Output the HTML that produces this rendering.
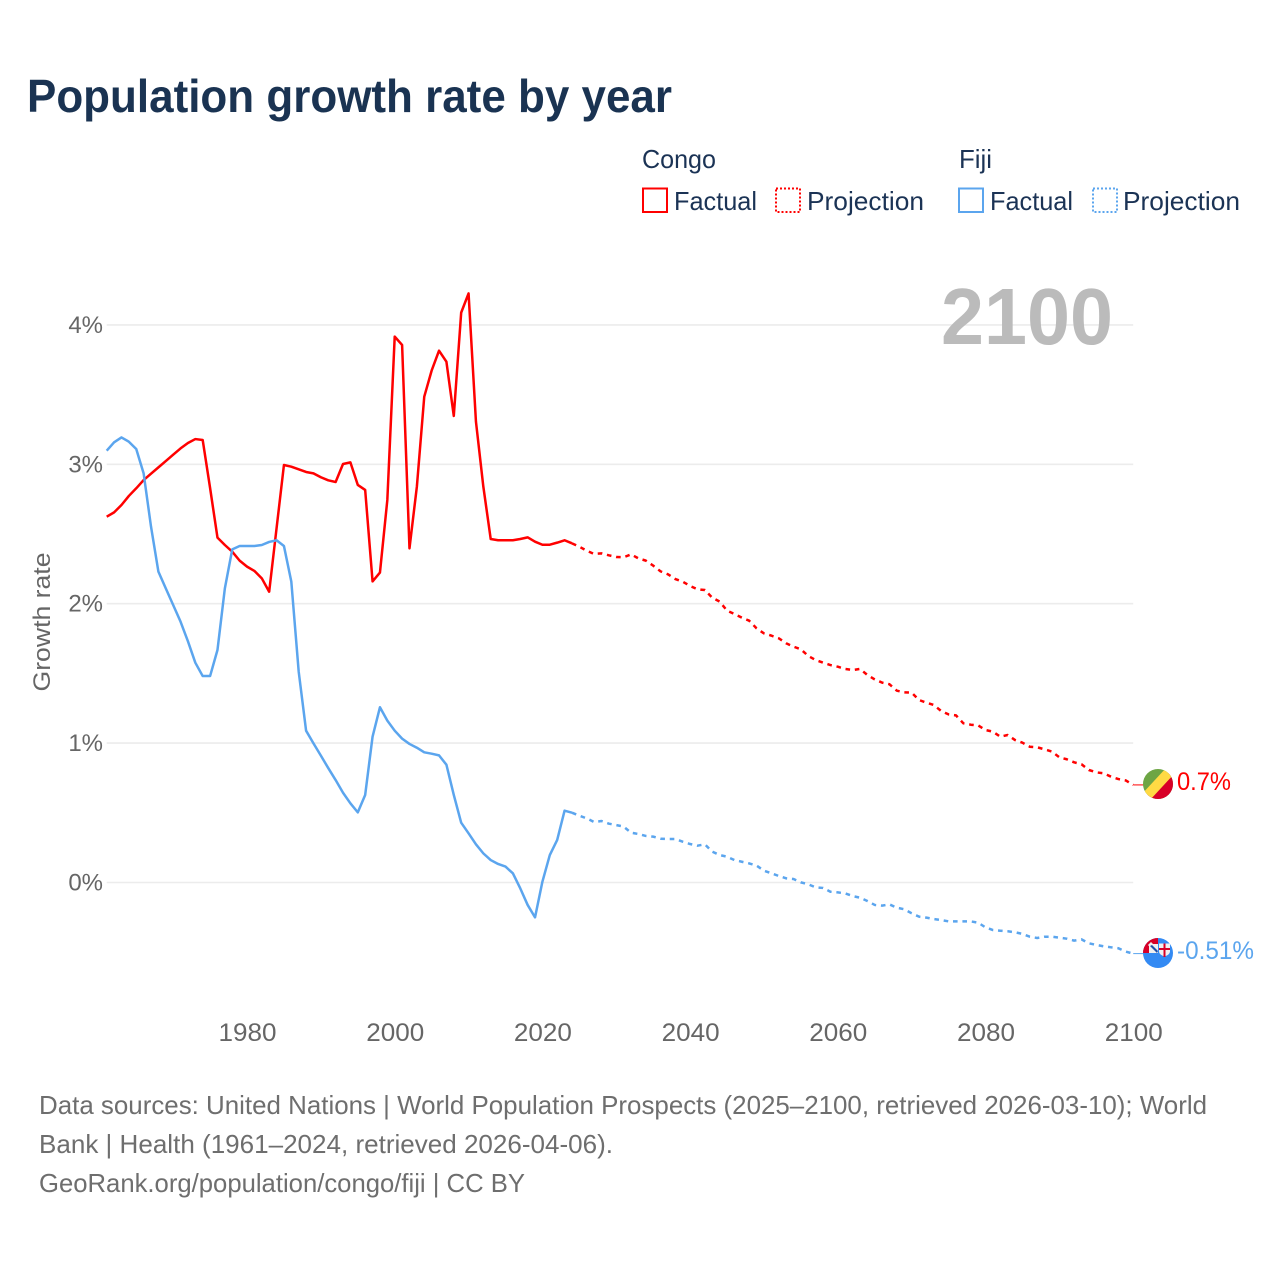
<!DOCTYPE html>
<html lang="en">
<head>
<meta charset="utf-8">
<title>Population growth rate by year</title>
<style>
html,body{margin:0;padding:0;background:#fff;width:1280px;height:1280px;overflow:hidden}
svg{display:block}
text{font-family:"Liberation Sans",sans-serif}
</style>
</head>
<body>
<svg id="chart" xmlns="http://www.w3.org/2000/svg" width="1280" height="1280" viewBox="0 0 1280 1280">
  <defs>
    <clipPath id="flag-clip-congo"><circle cx="1158" cy="784" r="15"/></clipPath>
    <clipPath id="flag-clip-fiji"><circle cx="1158" cy="953" r="15"/></clipPath>
    <clipPath id="canton-clip"><rect x="1143" y="938" width="15" height="15"/></clipPath>
  </defs>
  <rect width="1280" height="1280" fill="#fff"/>

  <text x="27" y="112" font-size="46" font-weight="700" fill="#1a3352" textLength="645" lengthAdjust="spacingAndGlyphs">Population growth rate by year</text>

  <g font-size="26" fill="#1b3355">
    <text x="642" y="168" textLength="74" lengthAdjust="spacingAndGlyphs">Congo</text>
    <text x="959" y="168" textLength="33" lengthAdjust="spacingAndGlyphs">Fiji</text>

    <rect x="643" y="188.5" width="24" height="23.5" fill="none" stroke="#ff0000" stroke-width="2"/>
    <text x="674" y="210" textLength="83" lengthAdjust="spacingAndGlyphs">Factual</text>
    <rect x="776" y="188.5" width="24" height="23.5" fill="none" stroke="#ff0000" stroke-width="2" stroke-dasharray="2 2"/>
    <text x="807" y="210" textLength="117" lengthAdjust="spacingAndGlyphs">Projection</text>

    <rect x="959" y="188.5" width="24" height="23.5" fill="none" stroke="#5ba5ee" stroke-width="2"/>
    <text x="990" y="210" textLength="83" lengthAdjust="spacingAndGlyphs">Factual</text>
    <rect x="1093" y="188.5" width="24" height="23.5" fill="none" stroke="#5ba5ee" stroke-width="2" stroke-dasharray="2 2"/>
    <text x="1123" y="210" textLength="117" lengthAdjust="spacingAndGlyphs">Projection</text>
  </g>

  <g id="grid"></g>
  <g id="y-ticks"></g>
  <g id="x-ticks"></g>

  <text transform="translate(50 622) rotate(-90)" text-anchor="middle" font-size="24" fill="#666" textLength="139" lengthAdjust="spacingAndGlyphs">Growth rate</text>

  <text x="941" y="344" font-size="80" font-weight="700" fill="#bbbbbb" textLength="172" lengthAdjust="spacingAndGlyphs">2100</text>

  <g id="series"></g>

  <g clip-path="url(#flag-clip-congo)">
    <rect x="1142" y="768" width="32" height="32" fill="#6da544"/>
    <polygon points="1174,768 1174,800 1142,800" fill="#d80027"/>
    <polygon points="1166,768 1174,774 1150,800 1142,794" fill="#ffda44"/>
  </g>
  <text x="1177" y="790" font-size="25" fill="#ff0000" textLength="54" lengthAdjust="spacingAndGlyphs">0.7%</text>

  <g clip-path="url(#flag-clip-fiji)">
    <rect x="1142" y="937" width="32" height="32" fill="#338af3"/>
    <g clip-path="url(#canton-clip)">
      <rect x="1143" y="938" width="15" height="15" fill="#d80027"/>
      <polygon points="1148,945 1151,942 1158,949 1158,953 1155,953" fill="#f0f0f0"/>
      <rect x="1149" y="944" width="9" height="9" fill="#f0f0f0"/>
      <polygon points="1150,946 1152,945 1158,951 1157,953" fill="#1f4fa8"/>
    </g>
    <path d="M1159 943.5h11v8q0 3-5.5 5q-5.500-2-5.500-5z" fill="#f0f0f0"/>
    <rect x="1163.5" y="943.5" width="2" height="13.500" fill="#d80027"/>
    <rect x="1159" y="948" width="11" height="2" fill="#d80027"/>
  </g>
  <text x="1177" y="959" font-size="25" fill="#5ba5ee" textLength="77" lengthAdjust="spacingAndGlyphs">-0.51%</text>

  <g font-size="26" fill="#6e6e6e">
    <text x="39" y="1114" textLength="1168" lengthAdjust="spacingAndGlyphs">Data sources: United Nations | World Population Prospects (2025–2100, retrieved 2026-03-10); World</text>
    <text x="39" y="1153" textLength="574" lengthAdjust="spacingAndGlyphs">Bank | Health (1961–2024, retrieved 2026-04-06).</text>
    <text x="39" y="1192" textLength="486" lengthAdjust="spacingAndGlyphs">GeoRank.org/population/congo/fiji | CC BY</text>
  </g>
</svg>
<script>
const yTickValues = [0, 1, 2, 3, 4];
const yTickLabels = ["0%", "1%", "2%", "3%", "4%"];
const xTickYears = [1980, 2000, 2020, 2040, 2060, 2080, 2100];
const xTickLabels = ["1980", "2000", "2020", "2040", "2060", "2080", "2100"];
const factualStartYear = [1961];
const projectionStartYear = [2024];

const congoFactual = [2.624,2.655,2.708,2.773,2.828,2.887,2.933,2.978,3.023,3.069,3.114,3.153,3.181,3.174,2.83,2.474,2.421,2.373,2.309,2.266,2.235,2.182,2.086,2.541,2.995,2.983,2.964,2.945,2.935,2.907,2.885,2.873,3.002,3.014,2.852,2.816,2.16,2.223,2.744,3.916,3.856,2.397,2.84,3.485,3.672,3.815,3.736,3.347,4.088,4.226,3.306,2.84,2.464,2.455,2.455,2.455,2.464,2.476,2.445,2.423,2.423,2.438,2.455,2.433];
const congoProjection = [2.433,2.409,2.38,2.357,2.361,2.347,2.335,2.333,2.354,2.325,2.309,2.273,2.232,2.211,2.177,2.158,2.127,2.103,2.098,2.043,2.015,1.95,1.926,1.9,1.878,1.823,1.787,1.771,1.752,1.716,1.692,1.673,1.625,1.596,1.577,1.56,1.548,1.532,1.524,1.532,1.489,1.457,1.434,1.422,1.376,1.364,1.362,1.309,1.29,1.273,1.23,1.206,1.199,1.142,1.132,1.127,1.094,1.082,1.046,1.058,1.022,1.003,0.974,0.97,0.955,0.939,0.898,0.884,0.862,0.848,0.807,0.79,0.783,0.759,0.742,0.732,0.70];
const fijiFactual = [3.098,3.158,3.193,3.162,3.11,2.935,2.553,2.23,2.11,1.991,1.871,1.73,1.577,1.481,1.481,1.668,2.11,2.39,2.414,2.414,2.414,2.421,2.443,2.455,2.414,2.158,1.512,1.089,0.998,0.91,0.821,0.735,0.644,0.568,0.503,0.628,1.046,1.257,1.161,1.089,1.032,0.994,0.967,0.934,0.924,0.912,0.845,0.628,0.429,0.353,0.274,0.209,0.161,0.133,0.114,0.066,-0.042,-0.161,-0.25,0.006,0.197,0.305,0.515,0.501];
const fijiProjection = [0.501,0.479,0.46,0.434,0.441,0.422,0.412,0.401,0.357,0.348,0.334,0.329,0.314,0.312,0.312,0.293,0.276,0.264,0.274,0.221,0.197,0.185,0.161,0.149,0.137,0.121,0.085,0.066,0.047,0.03,0.025,0.001,-0.013,-0.035,-0.039,-0.066,-0.071,-0.078,-0.097,-0.109,-0.133,-0.161,-0.166,-0.157,-0.181,-0.192,-0.221,-0.245,-0.252,-0.262,-0.269,-0.279,-0.279,-0.279,-0.279,-0.288,-0.322,-0.341,-0.346,-0.35,-0.357,-0.369,-0.389,-0.398,-0.389,-0.389,-0.396,-0.403,-0.417,-0.408,-0.436,-0.448,-0.458,-0.465,-0.472,-0.496,-0.51];

const SVG_NS = "http://www.w3.org/2000/svg";
function xScale(year) { return 106.7 + (year - 1961) * 7.385; }
function yScale(value) { return 882.5 - value * 139.4; }

function makeEl(tag, attrs, parent) {
  const el = document.createElementNS(SVG_NS, tag);
  for (const k in attrs) el.setAttribute(k, attrs[k]);
  parent.appendChild(el);
  return el;
}

const gridGroup = document.getElementById("grid");
const yTickGroup = document.getElementById("y-ticks");
const xTickGroup = document.getElementById("x-ticks");
const seriesGroup = document.getElementById("series");

yTickValues.forEach(function (v, i) {
  const line = makeEl("line", { x1: xScale(1961), x2: xScale(2100), y1: yScale(v), y2: yScale(v), stroke: "#ececec", "stroke-width": 1.6 }, gridGroup);
  
  
  const label = makeEl("text", { x: 103, y: yScale(v) + 8, "text-anchor": "end", "font-size": 24, fill: "#666" }, yTickGroup);
  
  
  label.textContent = yTickLabels[i];
});

xTickYears.forEach(function (yr, i) {
  const label = makeEl("text", { x: xScale(yr) + 0.5, y: 1041, "text-anchor": "middle", "font-size": 25, fill: "#666", textLength: 58, lengthAdjust: "spacingAndGlyphs" }, xTickGroup);
  
  
  label.textContent = xTickLabels[i];
});

function toPoints(values, startYear) {
  return values.map(function (v, i) {
    return xScale(startYear + i).toFixed(2) + "," + yScale(v).toFixed(2);
  }).join(" ");
}

function drawSeries(values, startYear, color, dashed) {
  const attrs = { points: toPoints(values, startYear), fill: "none", stroke: color, "stroke-width": 2.5, "stroke-linejoin": "round" };
  if (dashed) attrs["stroke-dasharray"] = "4.6 4.8";
  return makeEl("polyline", attrs, seriesGroup);
}

function drawConnector(values, startYear, color, markerX) {
  const last = values[values.length - 1];
  const lastYear = startYear + values.length - 1;
  return makeEl("line", { x1: xScale(lastYear), y1: yScale(last), x2: markerX, y2: yScale(last), stroke: color, "stroke-width": 1 }, seriesGroup);
}

const congoFactualLine = drawSeries(congoFactual, factualStartYear[0], "#ff0000", false);



const congoProjectionLine = drawSeries(congoProjection, projectionStartYear[0], "#ff0000", true);



const congoConnector = drawConnector(congoProjection, projectionStartYear[0], "#ff0000", 1146);



const fijiFactualLine = drawSeries(fijiFactual, factualStartYear[0], "#5ba5ee", false);



const fijiProjectionLine = drawSeries(fijiProjection, projectionStartYear[0], "#5ba5ee", true);



const fijiConnector = drawConnector(fijiProjection, projectionStartYear[0], "#5ba5ee", 1146);


</script>
</body>
</html>
